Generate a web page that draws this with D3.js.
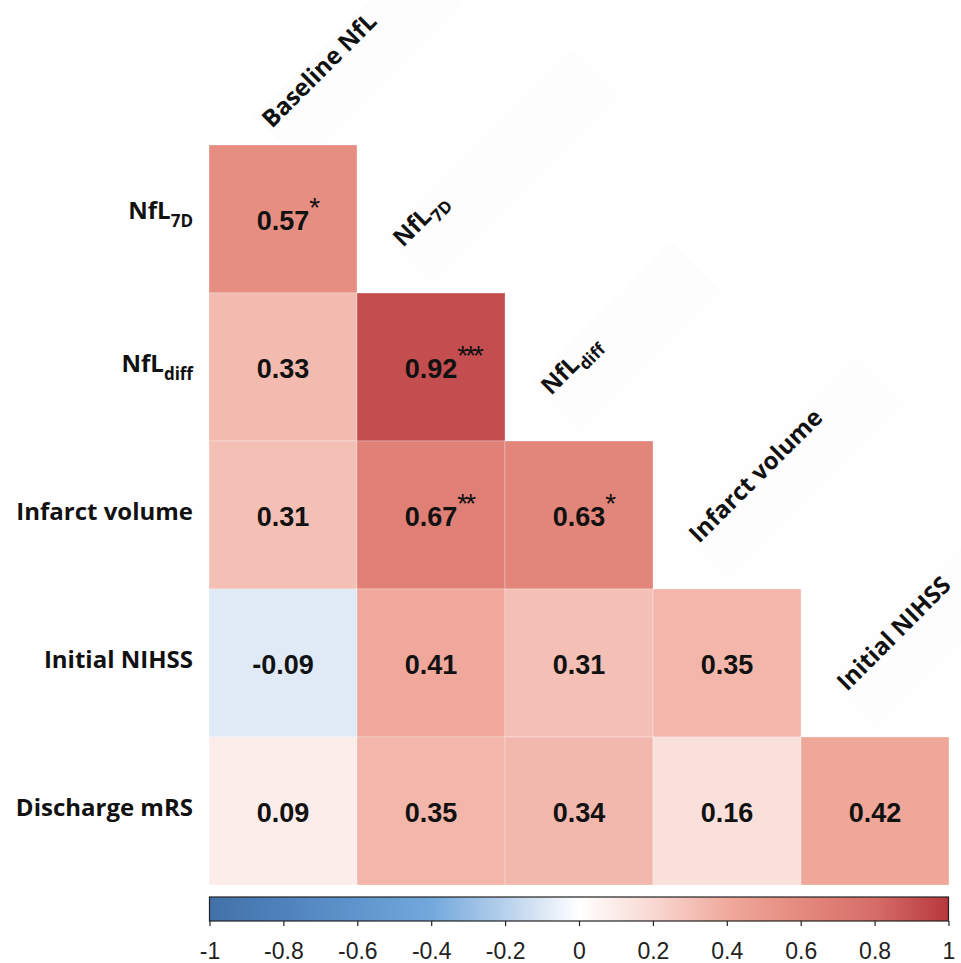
<!DOCTYPE html>
<meta charset="utf-8">
<html>
  <head>
    <style>
      body { margin: 0; background: #fff; }
      text.rowLabel, text.colLabel {
        font-family: "Open Sans", Lato, sans-serif;
        font-weight: 700;
        font-size: 24px;
        fill: #111;
      }
      text.value {
        font-family: "Liberation Sans", Arial, sans-serif;
        font-weight: 700;
        font-size: 27px;
        fill: #111;
      }
      text.star {
        font-family: "Liberation Sans", Arial, sans-serif;
        font-size: 28px;
        fill: #111;
      }
      .legend text {
        font-family: "Liberation Sans", Arial, sans-serif;
        font-size: 23px;
        fill: #222;
      }
      rect.cell { stroke: rgba(255,255,255,0.3); stroke-width: 1px; }
      rect.labelBox { fill: #fdfdfd; }
    </style>
    <script src="https://d3js.org/d3.v7.min.js"></script>
  </head>
  <body>
    <div id="chart"></div>
    <script type="text/javascript">
      // row / column names (subscripts kept apart)
      var rowNames = ["NfL", "NfL", "Infarct volume", "Initial NIHSS", "Discharge mRS"];
      var rowSubs  = ["7D", "diff", "", "", ""];
      var colNames = ["Baseline NfL", "NfL", "NfL", "Infarct volume", "Initial NIHSS"];
      var colSubs  = ["", "7D", "diff", "", ""];

      // lower triangle of the correlation matrix
      var corrValues = [
        [0.57],
        [0.33, 0.92],
        [0.31, 0.67, 0.63],
        [-0.09, 0.41, 0.31, 0.35],
        [0.09, 0.35, 0.34, 0.16, 0.42]
      ];
      var corrStars = [
        ["*"],
        ["", "***"],
        ["", "**", "*"],
        ["", "", "", ""],
        ["", "", "", "", ""]
      ];
      var legendTicks = [-1, -0.8, -0.6, -0.4, -0.2, 0, 0.2, 0.4, 0.6, 0.8, 1];

      var width = 961, height = 963;
      var gridLeft = 209, gridRight = 949, gridTop = 145, gridBottom = 885;

      var colorDomain = [-1, -0.8, -0.6, -0.4, -0.2, 0, 0.2, 0.4, 0.6, 0.8, 1];
      var colorRange  = ["#4271a9", "#4f82bb", "#5f95cc", "#73a8dd", "#b7d0ec", "#ffffff",
                         "#f8d8d2", "#f0aa9d", "#e4897d", "#d66d69", "#b8373d"];
      var color = d3.scaleLinear().domain(colorDomain).range(colorRange).interpolate(d3.interpolateRgb);

      // label placement tweaks (the column labels were placed by hand)
      var colLabelNudge = [[17, 29], [0, 0], [0, 0], [0, 0], [0, 0]];
      var colBoxLen = [230, 265, 200, 250, 250];
      var rowLabelNudge = [-5, 0, 0, 0, 0];

      var svg = d3.select("#chart").append("svg")
          .attr("width", width)
          .attr("height", height);

      var x = d3.scaleBand().domain(d3.range(colNames.length)).range([gridLeft, gridRight]);
      var y = d3.scaleBand().domain(d3.range(rowNames.length)).range([gridTop, gridBottom]);
      var bw = x.bandwidth();

      var cells = [];
      corrValues.forEach(function(row, i) {
        row.forEach(function(v, j) {
          cells.push({ row: i, col: j, value: v, stars: corrStars[i][j] });
        });
      });

      // column labels with their faint background strips
      var colG = svg.selectAll(".colLabelG")
          .data(colNames)
          .enter().append("g")
            .attr("class", "colLabelG")
            .attr("transform", function(d, j) {
              return "translate(" + (x(j) + 46 + colLabelNudge[j][0]) + "," + (y(j) - 45 + colLabelNudge[j][1]) + ") rotate(-45)";
            });

      colG.append("rect")
          .attr("class", "labelBox")
          .attr("x", -5)
          .attr("y", -23)
          .attr("width", function(d, j) { return colBoxLen[j]; })
          .attr("height", 70);

      var colText = colG.append("text")
          .attr("class", "colLabel")
          .attr("x", 0)
          .attr("y", 0);
      colText.append("tspan").text(function(d) { return d; });
      colText.append("tspan")
          .attr("font-size", "17px")
          .attr("dy", 7)
          .text(function(d, j) { return colSubs[j]; });

      // cells
      svg.selectAll(".cell")
          .data(cells)
          .enter().append("rect")
            .attr("class", "cell")
            .attr("x", function(d) { return x(d.col); })
            .attr("y", function(d) { return y(d.row); })
            .attr("width", bw)
            .attr("height", y.bandwidth())
            .style("fill", function(d) { return color(d.value); });

      var values = svg.selectAll(".value")
          .data(cells)
          .enter().append("text")
            .attr("class", "value")
            .attr("x", function(d) { return x(d.col) + bw / 2; })
            .attr("y", function(d) { return y(d.row) + y.bandwidth() / 2 + 11; })
            .style("text-anchor", "middle")
            .text(function(d) { return d.value.toFixed(2); });

      // significance stars sit at the top right of the number
      values.each(function(d) {
        if (!d.stars) return;
        var w = this.getComputedTextLength();
        svg.append("text")
            .attr("class", "star")
            .attr("x", x(d.col) + bw / 2 + w / 2)
            .attr("y", y(d.row) + y.bandwidth() / 2 + 11 - 13)
            .attr("letter-spacing", "-3px")
            .text(d.stars);
      });

      // row labels
      var rowText = svg.selectAll(".rowLabel")
          .data(rowNames)
          .enter().append("text")
            .attr("class", "rowLabel")
            .attr("x", gridLeft - 16)
            .attr("y", function(d, i) { return y(i) + y.bandwidth() / 2 + 5 + rowLabelNudge[i]; })
            .style("text-anchor", "end");
      rowText.append("tspan").text(function(d) { return d; });
      rowText.append("tspan")
          .attr("font-size", "17px")
          .attr("dy", 8)
          .text(function(d, i) { return rowSubs[i]; });

      // colour bar
      var lx = d3.scaleLinear().domain([-1, 1]).range([gridLeft + 0.5, gridRight - 0.5]);
      var defs = svg.append("defs");
      var grad = defs.append("linearGradient").attr("id", "cbar");
      grad.selectAll("stop")
          .data(colorDomain)
          .enter().append("stop")
            .attr("offset", function(d) { return ((d + 1) / 2 * 100) + "%"; })
            .attr("stop-color", function(d) { return color(d); });

      var legend = svg.append("g").attr("class", "legend");
      legend.append("rect")
          .attr("x", lx(-1))
          .attr("y", 897)
          .attr("width", lx(1) - lx(-1))
          .attr("height", 24)
          .style("fill", "url(#cbar)")
          .style("stroke", "#222")
          .style("stroke-width", "1.2px");

      var axis = d3.axisBottom(lx)
          .tickValues(legendTicks)
          .tickSize(5)
          .tickPadding(17)
          .tickFormat(function(d) { return String(Math.round(d * 10) / 10); });

      legend.append("g")
          .attr("transform", "translate(0,921)")
          .call(axis)
          .call(function(g) { g.select(".domain").remove(); })
          .call(function(g) { g.selectAll("line").style("stroke", "#222").style("stroke-width", "1.2px"); })
          .call(function(g) { g.selectAll("text").attr("font-size", null).attr("font-family", null); });
    </script>
  </body>
</html>
